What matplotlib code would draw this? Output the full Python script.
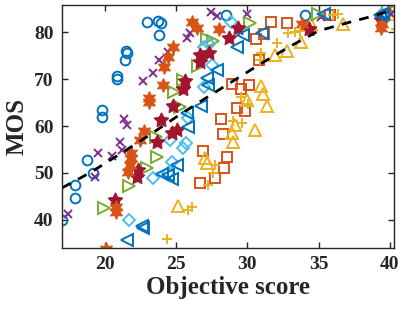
import numpy as np
import matplotlib
matplotlib.use('Agg')
import matplotlib.pyplot as plt

# colours (MATLAB default order)
C_BLUE = '#0072BD'
C_ORANGE = '#D95319'
C_YELLOW = '#EDB120'
C_PURPLE = '#7E2F8E'
C_GREEN = '#77AC30'
C_LBLUE = '#4DBEEE'
C_RED = '#A2142F'

# ---- data ----
circ_x = [16.97, 17.89, 17.89, 18.73, 19.15, 19.79, 19.79, 20.85, 20.85, 21.41, 21.48, 21.55,
          22.96, 23.73, 23.94, 23.80, 28.52, 34.08, 39.50]
circ_y = [40.0, 44.7, 47.4, 52.8, 50.0, 61.9, 63.4, 70.0, 70.6, 74.0, 76.0, 75.5,
          82.1, 82.3, 81.9, 79.4, 83.6, 83.6, 84.0]

sq_x = [26.69, 27.75, 28.38, 28.59, 26.90, 28.31, 28.17, 29.30, 29.86, 28.94, 29.58, 30.14,
        30.85, 30.63, 31.20, 31.69, 32.75, 35.77, 40.21]
sq_y = [47.9, 48.9, 51.1, 53.4, 54.7, 58.3, 61.5, 63.8, 63.2, 68.9, 67.9, 68.7,
        74.0, 78.5, 79.6, 82.1, 81.9, 83.6, 85.5]

tri_x = [25.14, 27.04, 27.18, 29.01, 28.94, 29.15, 30.56, 30.00, 30.99, 31.13, 31.41, 31.97,
         32.75, 33.80, 34.44, 36.69, 40.35]
tri_y = [43.0, 53.2, 52.1, 56.6, 58.5, 60.2, 59.1, 65.5, 68.5, 66.8, 64.3, 75.1,
         76.0, 77.9, 81.7, 81.7, 83.8]

xm_x = [17.39, 19.30, 19.51, 20.49, 21.06, 21.20, 21.34, 21.55, 22.68, 23.38, 23.80, 24.44,
        25.77, 25.99, 27.46, 27.89, 30.00, 35.20, 40.07]
xm_y = [41.3, 49.1, 54.3, 53.6, 56.6, 54.9, 61.5, 60.2, 69.6, 71.3, 74.0, 75.7,
        78.7, 79.8, 84.3, 83.4, 84.0, 83.2, 84.0]

rt_x = [19.93, 21.69, 22.96, 23.66, 23.59, 25.28, 24.86, 25.49, 26.55, 27.18, 27.61, 30.21,
        34.93, 39.86]
rt_y = [42.6, 47.2, 51.1, 53.4, 57.7, 64.0, 67.2, 69.8, 72.8, 78.5, 78.1, 81.9,
        84.0, 85.5]

dia_x = [21.69, 23.38, 24.44, 24.72, 24.58, 25.49, 25.70, 25.85, 26.97, 27.54, 26.97, 27.32,
         28.87, 39.37]
dia_y = [40.0, 48.9, 50.0, 52.3, 57.0, 55.3, 56.4, 61.7, 68.3, 73.0, 76.8, 77.4,
         82.1, 83.6]

pent_x = [20.70, 22.25, 22.32, 23.66, 23.94, 24.72, 25.07, 24.79, 25.49, 25.63, 26.69, 26.69,
          27.32, 28.73, 29.37, 34.30, 39.37]
pent_y = [44.3, 49.1, 50.6, 56.6, 61.3, 58.5, 59.1, 64.3, 67.9, 69.6, 75.1, 73.6,
          75.5, 78.7, 80.9, 80.6, 82.6]

hex_x = [20.07, 20.77, 20.77, 21.62, 21.76, 21.83, 21.83, 22.46, 22.75, 23.10, 23.10, 24.08,
         24.15, 24.44, 24.79, 26.13, 26.48, 28.03, 33.87, 39.44, 39.37]
hex_y = [33.8, 42.8, 41.7, 50.2, 51.7, 53.2, 54.3, 57.0, 58.9, 66.0, 65.1, 68.7,
         72.6, 74.7, 76.8, 82.1, 80.9, 80.6, 81.7, 81.7, 80.9]

lt_x = [21.55, 22.61, 22.68, 24.01, 24.44, 24.72, 25.07, 25.85, 25.77, 26.76, 27.25, 27.18,
        27.89, 29.30, 29.72, 31.06, 35.35, 39.51, 39.30]
lt_y = [35.7, 38.7, 38.3, 49.8, 49.6, 48.7, 51.7, 59.8, 62.8, 64.3, 68.7, 70.2,
        71.9, 76.8, 79.4, 79.8, 83.8, 84.0, 83.6]

plus_x = [24.37, 25.85, 26.13, 27.25, 27.61, 27.75, 29.01, 29.65, 29.58, 30.07, 30.92, 30.99,
          32.11, 32.82, 33.31, 33.66, 35.99, 36.34, 40.42]
plus_y = [36.0, 42.1, 42.8, 47.4, 50.0, 51.7, 61.1, 60.6, 66.2, 64.7, 74.0, 75.5,
          77.7, 79.8, 80.0, 80.2, 83.6, 83.8, 80.6]

# fitted curve
fit_x = [17, 19, 21, 23, 25, 27, 29, 31, 33, 35, 37, 39, 40]
fit_y = [46.8, 50.1, 53.9, 57.8, 61.9, 65.8, 69.6, 73.4, 77.0, 80.3, 82.0, 83.6, 84.6]

plt.rcParams['font.family'] = 'Liberation Serif'
plt.rcParams['font.weight'] = 'bold'

fig = plt.figure(figsize=(4.03, 3.17), dpi=100)
ax = fig.add_axes([0.154, 0.218, 0.824, 0.766])

mew = 1.4
ax.plot(circ_x, circ_y, 'o', ms=7, mfc='none', mec=C_BLUE, mew=mew)
ax.plot(sq_x, sq_y, 's', ms=6.5, mfc='none', mec=C_ORANGE, mew=mew)
ax.plot(tri_x, tri_y, '^', ms=8, mfc='none', mec=C_YELLOW, mew=mew)
ax.plot(xm_x, xm_y, 'x', ms=5.5, mec=C_PURPLE, mew=mew)
ax.plot(rt_x, rt_y, '>', ms=8, mfc='none', mec=C_GREEN, mew=mew)
ax.plot(dia_x, dia_y, 'D', ms=6, mfc='none', mec=C_LBLUE, mew=mew)
ax.plot(pent_x, pent_y, marker=(5, 1, 0), ls='none', ms=11, mfc=C_RED, mec=C_RED, mew=0.8)
ax.plot(hex_x, hex_y, marker=(6, 1, 0), ls='none', ms=10, mfc=C_ORANGE, mec=C_ORANGE, mew=0.8)
ax.plot(lt_x, lt_y, '<', ms=8, mfc='none', mec=C_BLUE, mew=mew)
ax.plot(plus_x, plus_y, '+', ms=7, mec=C_YELLOW, mew=mew)

ax.plot(fit_x, fit_y, '--', color='k', lw=2, dashes=(3.5, 3))

ax.set_xlim(17, 40.3)
ax.set_ylim(34, 85.8)
ax.set_xticks([20, 25, 30, 35, 40])
ax.set_yticks([40, 50, 60, 70, 80])
ax.tick_params(direction='in', top=True, right=True, length=4, width=1,
               labelsize=14, colors='#262626', pad=6)
for lab in ax.get_xticklabels() + ax.get_yticklabels():
    lab.set_fontweight('bold')
for sp in ax.spines.values():
    sp.set_color('#262626')
    sp.set_linewidth(1)

ax.set_xlabel('Objective score', fontsize=18, fontweight='bold', color='#262626', labelpad=2)
ax.set_ylabel('MOS', fontsize=18, fontweight='bold', color='#262626', labelpad=4)

fig.savefig('out.png', dpi=100)
